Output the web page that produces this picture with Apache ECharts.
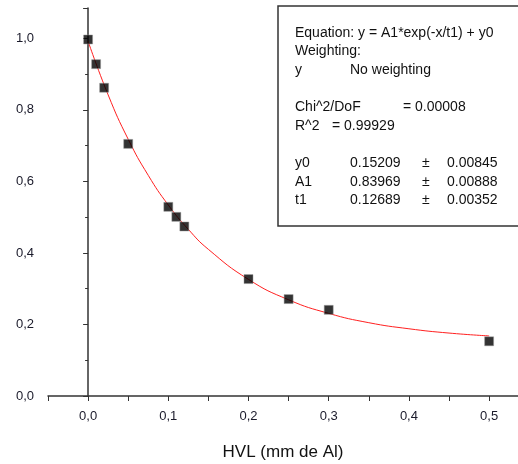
<!DOCTYPE html>
<html>
<head>
<meta charset="utf-8">
<script src="https://cdn.jsdelivr.net/npm/echarts@6/dist/echarts.min.js"></script>
<style>
  html, body { margin: 0; padding: 0; background: #fff; }
  #chart { width: 518px; height: 464px; }
</style>
</head>
<body>
<div id="chart"></div>
<script>
// measured points: HVL (mm Al) vs relative value
var hvlX = [0, 0.01, 0.02, 0.05, 0.10, 0.11, 0.12, 0.20, 0.25, 0.30, 0.50];
var relY = [0.997, 0.928, 0.862, 0.705, 0.529, 0.501, 0.474, 0.327, 0.271, 0.241, 0.153];

// red fit curve
var fitX = [0, 0.025, 0.05, 0.075, 0.10, 0.125, 0.15, 0.20, 0.25, 0.30, 0.35, 0.40, 0.45, 0.50];
var fitY = [0.992, 0.842, 0.718, 0.617, 0.534, 0.466, 0.410, 0.326, 0.269, 0.231, 0.205, 0.188, 0.176, 0.168];

// text box lines
var boxLines = [
    ["Equation: y = A1*exp(-x/t1) + y0", "", "", ""],
    ["Weighting:", "", "", ""],
    ["y", "No weighting", "", ""],
    ["", "", "", ""],
    ["Chi^2/DoF", "", "= 0.00008", ""],
    ["R^2", "= 0.99929", "", ""],
    ["", "", "", ""],
    ["y0", "0.15209", "\u00b1", "0.00845"],
    ["A1", "0.83969", "\u00b1", "0.00888"],
    ["t1", "0.12689", "\u00b1", "0.00352"]
];

var chart = echarts.init(document.getElementById("chart"));

function pairs(xs, ys) {
    var out = [];
    xs.forEach(function(x, i) { out.push([x, ys[i]]); });
    return out;
}

function commaLabel(v) {
    var r = Math.round(v * 10);
    if (Math.abs(v * 10 - r) > 1e-6) return "";
    return (r / 10).toFixed(1).replace(".", ",");
}

var graphics = [{
    type: "rect",
    shape: { x: 278, y: 6, width: 260, height: 220 },
    style: { fill: "#fff", stroke: "#333", lineWidth: 1.5 },
    z: 10
}];
boxLines.forEach(function(row, i) {
    var y = 33 + i * 18.6;
    var xs = [295, 350, 422, 447];
    if (i === 4) xs = [295, 350, 403, 447];
    if (i === 5) xs = [295, 332, 403, 447];
    row.forEach(function(t, j) {
        if (!t) return;
        graphics.push({
            type: "text",
            x: xs[j],
            y: y,
            z: 11,
            style: {
                text: t, fill: "#111", textVerticalAlign: "middle",
                font: "14px 'Liberation Sans', Arial, sans-serif"
            }
        });
    });
});

var option = {
    animation: false,
    backgroundColor: "#fff",
    grid: { left: 48, top: 8, right: 0, bottom: 68, outerBoundsMode: "none" },
    xAxis: {
        type: "value",
        min: -0.05,
        max: 0.536,
        interval: 0.05,
        name: "HVL (mm de Al)",
        nameLocation: "middle",
        nameGap: 48,
        nameTextStyle: { fontSize: 17, color: "#111", fontFamily: "Liberation Sans" },
        splitLine: { show: false },
        axisLine: { lineStyle: { color: "#333", width: 1.5 } },
        axisTick: { length: 5, lineStyle: { color: "#333" } },
        axisLabel: {
            formatter: commaLabel, color: "#1a1a2a", fontSize: 13,
            fontFamily: "Liberation Sans", margin: 14, showMaxLabel: false
        }
    },
    yAxis: {
        type: "value",
        min: 0,
        max: 1.085,
        interval: 0.2,
        splitLine: { show: false },
        axisLine: { show: true, lineStyle: { color: "#333", width: 1.5 } },
        axisTick: { show: true, length: 5, lineStyle: { color: "#333" } },
        minorTick: { show: true, splitNumber: 2, length: 3, lineStyle: { color: "#333" } },
        axisLabel: {
            formatter: function(v) { return v > 1.01 ? "" : commaLabel(v); },
            color: "#1a1a2a", fontSize: 13, fontFamily: "Liberation Sans",
            margin: 14, showMaxLabel: false
        }
    },
    series: [
        {
            type: "line",
            data: pairs(fitX, fitY),
            smooth: true,
            showSymbol: false,
            lineStyle: { color: "#ff2020", width: 1 },
            z: 2
        },
        {
            type: "scatter",
            data: pairs(hvlX, relY),
            symbol: "rect",
            symbolSize: 9,
            itemStyle: { color: "#000", borderColor: "#999", borderWidth: 0.6 },
            z: 3
        }
    ],
    graphic: graphics
};

chart.setOption(option);
</script>
</body>
</html>
